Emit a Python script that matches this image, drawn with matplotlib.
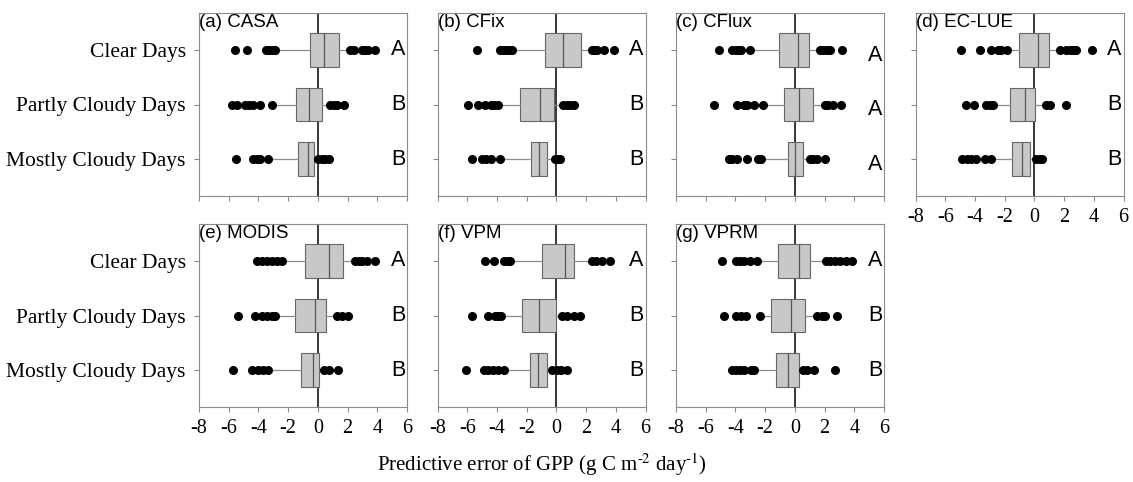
import matplotlib
matplotlib.use("Agg")
import matplotlib.pyplot as plt

plt.rcParams['mathtext.fontset'] = 'stix'

models = ["(a) CASA", "(b) CFix", "(c) CFlux", "(d) EC-LUE", "(e) MODIS", "(f) VPM", "(g) VPRM"]
categories = ["Clear Days", "Partly Cloudy Days", "Mostly Cloudy Days"]
xticks = [-8, -6, -4, -2, 0, 2, 4, 6]

# per model: [clear, partly, mostly]
whislo = [
    [-2.7, -2.88, -3.2],
    [-2.83, -3.72, -3.5],
    [-2.76, -1.87, -2.09],
    [-1.55, -2.67, -2.67],
    [-2.09, -2.76, -2.99],
    [-2.78, -3.39, -3.16],
    [-2.49, -2.09, -2.42],
]
q1 = [
    [-0.52, -1.46, -1.37],
    [-0.78, -2.47, -1.74],
    [-1.09, -0.73, -0.47],
    [-1.03, -1.61, -1.52],
    [-0.85, -1.51, -1.15],
    [-1.0, -2.34, -1.8],
    [-1.13, -1.62, -1.27],
]
med = [
    [0.38, -0.61, -0.63],
    [0.47, -1.09, -1.14],
    [0.24, 0.29, 0.04],
    [0.27, -0.65, -0.83],
    [0.76, -0.2, -0.34],
    [0.56, -1.18, -1.22],
    [0.27, -0.27, -0.47],
]
q3 = [
    [1.44, 0.29, -0.25],
    [1.63, -0.18, -0.65],
    [0.96, 1.2, 0.56],
    [0.99, 0.02, -0.27],
    [1.69, 0.56, 0.07],
    [1.22, -0.02, -0.65],
    [1.02, 0.71, 0.29],
]
whishi = [
    [2.07, 0.72, -0.1],
    [2.07, 0.18, -0.2],
    [1.47, 1.91, 0.91],
    [1.5, 0.7, -0.09],
    [2.29, 1.17, 0.27],
    [2.29, 0.29, -0.49],
    [1.96, 1.24, 0.47],
]
fliers = [
    [[-5.57, -4.79, -3.5, -3.28, -3.06, -2.9, 2.18, 2.4, 2.97, 3.19, 3.4, 3.87],
     [-5.8, -5.46, -4.9, -4.63, -4.34, -3.89, -3.1, 0.83, 1.06, 1.28, 1.73],
     [-5.53, -4.34, -4.11, -3.89, -3.37, 0.04, 0.27, 0.49, 0.72]],
    [[-5.32, -3.78, -3.58, -3.4, -3.18, -2.96, 2.4, 2.56, 2.74, 3.23, 3.85],
     [-5.95, -5.28, -4.79, -4.39, -4.17, -3.94, 0.47, 0.69, 0.91, 1.18],
     [-5.66, -5.01, -4.72, -4.43, -3.76, -0.11, 0.07, 0.24]],
    [[-5.13, -4.2, -3.98, -3.76, -3.6, -3.02, 1.69, 1.91, 2.13, 2.36, 3.16],
     [-5.42, -3.87, -3.42, -3.2, -2.76, -2.16, 2.0, 2.24, 2.58, 3.13],
     [-4.42, -4.2, -3.87, -3.2, -2.49, -2.27, 1.02, 1.24, 1.47, 2.02]],
    [[-4.96, -3.63, -2.89, -2.44, -2.22, -1.82, 1.7, 2.15, 2.38, 2.6, 2.83, 3.88],
     [-4.62, -4.06, -3.27, -3.0, -2.78, 0.81, 1.03, 2.11],
     [-4.89, -4.55, -4.26, -3.9, -3.34, -2.89, 0.13, 0.36, 0.54]],
    [[-4.11, -3.78, -3.44, -3.1, -2.76, -2.38, 2.52, 2.74, 2.97, 3.3, 3.82],
     [-5.35, -4.22, -3.78, -3.44, -3.1, -2.88, 1.28, 1.62, 2.02],
     [-5.73, -4.4, -4.0, -3.66, -3.33, 0.38, 0.72, 1.35]],
    [[-4.83, -4.23, -3.5, -3.27, -3.1, 2.4, 2.69, 3.05, 3.59],
     [-5.66, -4.61, -4.16, -3.94, -3.72, 0.4, 0.73, 1.18, 1.58],
     [-6.06, -4.88, -4.61, -4.28, -3.94, -3.5, -0.27, 0.07, 0.29, 0.69]],
    [[-4.91, -3.98, -3.69, -3.42, -3.02, -2.58, 2.09, 2.36, 2.69, 3.02, 3.42, 3.82],
     [-4.76, -3.98, -3.64, -3.31, -2.36, 1.47, 1.8, 2.02, 2.87],
     [-4.2, -3.98, -3.69, -3.42, -2.98, -2.76, 0.58, 0.8, 1.29, 2.73]],
]
letters = [
    ["A", "B", "B"],
    ["A", "B", "B"],
    ["A", "A", "A"],
    ["A", "B", "B"],
    ["A", "B", "B"],
    ["A", "B", "B"],
    ["A", "B", "B"],
]

W, H = 1133, 482
fig = plt.figure(figsize=(W / 100, H / 100), dpi=100)

# axes placement in pixels: (left, top)
lefts = [199, 437.5, 676, 915.5, 199, 437.5, 676]
tops = [13, 13, 13, 13, 224, 224, 224]
ax_w, ax_h = 208, 183

frame_col = "#8a8a8a"
serif = ["Liberation Serif", "DejaVu Serif"]
sans = ["Liberation Sans", "DejaVu Sans"]

positions = [3, 2, 1]

for i, name in enumerate(models):
    ax = fig.add_axes([lefts[i] / W, (H - tops[i] - ax_h) / H, ax_w / W, ax_h / H])
    stats = []
    for j in range(3):
        stats.append(dict(whislo=whislo[i][j], q1=q1[i][j], med=med[i][j],
                          q3=q3[i][j], whishi=whishi[i][j], fliers=fliers[i][j]))
    ax.bxp(stats, positions=positions, widths=0.62, orientation='horizontal',
           patch_artist=True, showcaps=False,
           boxprops=dict(facecolor="#c8c8c8", edgecolor="#666666", linewidth=0.8),
           medianprops=dict(color="#555555", linewidth=0.9),
           whiskerprops=dict(color="#8c8c8c", linewidth=0.9),
           flierprops=dict(marker="o", markerfacecolor="black", markeredgecolor="black",
                           markersize=5.5, linestyle="none"))
    ax.axvline(0, color="black", linewidth=1.1, zorder=1)

    dy = -0.1 if letters[i] == ["A", "A", "A"] else 0
    for j in range(3):
        ax.text(5.4, positions[j] + dy, letters[i][j], ha="center", va="center",
                fontsize=15.5, family=sans)
    ax.text(-8, 3.66, name, ha="left", va="top", fontsize=13.5, family=sans)

    ax.set_xlim(-8, 6)
    ax.set_ylim(0.33, 3.67)
    ax.set_xticks(xticks)
    ax.set_yticks(positions)
    for s in ax.spines.values():
        s.set_color(frame_col)
        s.set_linewidth(0.8)
    ax.tick_params(colors=frame_col, length=3.5, width=0.8)
    ax.tick_params(axis="x", labelcolor="black", labelsize=14.5, pad=5)
    ax.tick_params(axis="y", labelcolor="black", labelsize=15.5, pad=6)
    for lab in ax.get_xticklabels() + ax.get_yticklabels():
        lab.set_family(serif)

    if i in (0, 4):
        ax.set_yticklabels(categories)
    else:
        ax.set_yticklabels([])
    if i in (0, 1, 2):
        ax.set_xticklabels([])
    else:
        ax.set_xticklabels([str(t) for t in xticks])

fig.text(542 / W, 1 - 465 / H, "Predictive error of GPP (g C m$^{\u2010 2}$ day$^{\u2010 1}$)",
         ha="center", va="center", fontsize=15, family=serif)

fig.savefig("out.png", dpi=100)
